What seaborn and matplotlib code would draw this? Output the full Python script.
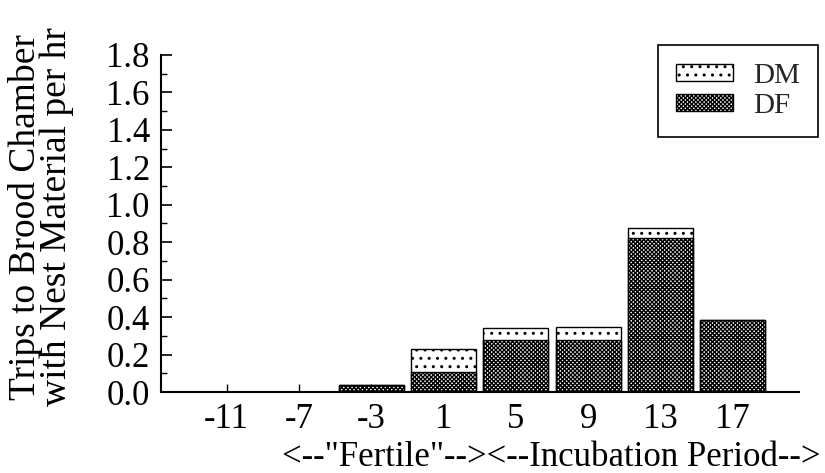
import matplotlib
matplotlib.use("Agg")
import matplotlib.pyplot as plt
from matplotlib.patches import Patch
from matplotlib.ticker import MultipleLocator
import pandas as pd
import seaborn as sns

# day of breeding cycle (relative to laying)
days = ["-11", "-7", "-3", "1", "5", "9", "13", "17"]
# trips per hr with nest material: female (DF) and male (DM)
df_trips = [0.0, 0.0, 0.04, 0.11, 0.28, 0.28, 0.825, 0.385]
dm_trips = [0.0, 0.0, 0.0, 0.12, 0.06, 0.07, 0.052, 0.0]

y_label = "Trips to Brood Chamber\nwith Nest Material per hr"
x_label = '<--"Fertile"--><--Incubation Period-->'

DF_HATCH = "xxxxxxxx"
DM_HATCH = ".."


def main() -> None:
    sns.set_theme(style="ticks")
    plt.rcParams["font.family"] = ["Liberation Serif", "DejaVu Serif"]
    plt.rcParams["hatch.linewidth"] = 1.0
    plt.rcParams["hatch.color"] = "black"

    data = pd.DataFrame({"day": days, "DF": df_trips, "DM": dm_trips})
    data["total"] = data["DF"] + data["DM"]

    fig = plt.figure(figsize=(8.25, 4.73), dpi=100)
    ax = fig.add_axes([0.195, 0.171, 0.773, 0.713])

    # stacked: total (DM on top) first, then DF over it
    sns.barplot(data=data, x="day", y="total", order=days, ax=ax, color="white",
                saturation=1, width=0.9, errorbar=None, edgecolor="black",
                linewidth=1.0, hatch=DM_HATCH)
    sns.barplot(data=data, x="day", y="DF", order=days, ax=ax, color="white",
                saturation=1, width=0.9, errorbar=None, edgecolor="black",
                linewidth=1.0, hatch=DF_HATCH)

    ax.set_xlim(-0.91, 7.91)
    ax.set_ylim(0, 1.8)
    ax.yaxis.set_major_locator(MultipleLocator(0.2))
    ax.yaxis.set_minor_locator(MultipleLocator(0.1))
    ax.set_yticklabels([f"{v:.1f}" for v in ax.get_yticks()])
    sns.despine(ax=ax)
    for side in ["left", "bottom"]:
        ax.spines[side].set_linewidth(1.5)
        ax.spines[side].set_color("black")

    ax.tick_params(axis="y", which="major", direction="in", length=8, width=1.2,
                   labelsize=25, pad=8, colors="black")
    ax.tick_params(axis="y", which="minor", direction="in", length=4, width=1.0,
                   colors="black")
    ax.tick_params(axis="x", direction="in", length=6, width=1.0, labelsize=25,
                   pad=8, colors="black")

    ax.set_xlabel("")
    ax.set_ylabel(y_label, fontsize=27, linespacing=0.86, color="black")
    ax.yaxis.set_label_coords(-0.137, 0.52)

    fig.text(551 / 825, 1 - 457 / 473, x_label, fontsize=25, ha="center",
             va="center", color="black")

    handles = [
        Patch(facecolor="white", edgecolor="black", hatch=DM_HATCH, label="DM"),
        Patch(facecolor="white", edgecolor="black", hatch=DF_HATCH, label="DF"),
    ]
    leg = fig.legend(handles=handles, loc="upper right",
                     bbox_to_anchor=(818 / 825, 1 - 45 / 473), fontsize=21,
                     frameon=True, fancybox=False, framealpha=1,
                     edgecolor="black", borderpad=0.62, labelspacing=0.12,
                     handlelength=1.95, handleheight=0.5, handletextpad=0.7,
                     borderaxespad=0)
    leg.get_frame().set_linewidth(1.2)

    fig.savefig("out.png", dpi=100)
    plt.close(fig)


if __name__ == "__main__":
    main()
